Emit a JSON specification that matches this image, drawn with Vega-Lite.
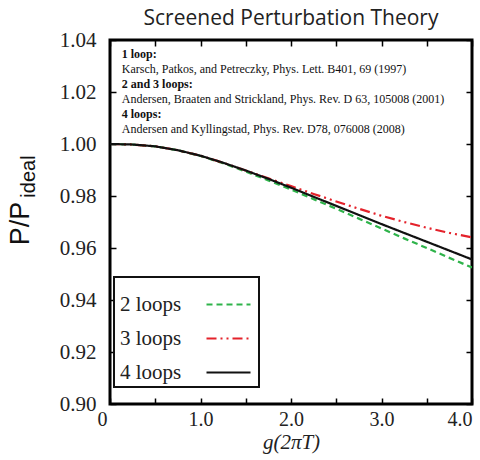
{
  "$schema": "https://vega.github.io/schema/vega-lite/v6.json",
  "width": 362,
  "height": 364,
  "autosize": {"type": "none"},
  "padding": {"left": 110, "top": 40, "right": 8, "bottom": 56},
  "title": {"text": "Screened Perturbation Theory", "font": "Open Sans", "fontSize": 21, "fontWeight": "normal", "anchor": "middle", "offset": 0, "color": "#222"},
  "datasets": {
    "curves": [
      {"g": 0.0, "P": 1.0, "series": "2 loops"},
      {"g": 0.25, "P": 0.9998, "series": "2 loops"},
      {"g": 0.5, "P": 0.9991, "series": "2 loops"},
      {"g": 0.75, "P": 0.9976, "series": "2 loops"},
      {"g": 1.0, "P": 0.9954, "series": "2 loops"},
      {"g": 1.25, "P": 0.9926, "series": "2 loops"},
      {"g": 1.5, "P": 0.9894, "series": "2 loops"},
      {"g": 1.75, "P": 0.986, "series": "2 loops"},
      {"g": 2.0, "P": 0.9825, "series": "2 loops"},
      {"g": 2.25, "P": 0.9788, "series": "2 loops"},
      {"g": 2.5, "P": 0.9751, "series": "2 loops"},
      {"g": 2.75, "P": 0.9713, "series": "2 loops"},
      {"g": 3.0, "P": 0.9675, "series": "2 loops"},
      {"g": 3.25, "P": 0.9637, "series": "2 loops"},
      {"g": 3.5, "P": 0.9600, "series": "2 loops"},
      {"g": 3.75, "P": 0.9562, "series": "2 loops"},
      {"g": 4.0, "P": 0.9525, "series": "2 loops"},
      {"g": 0.0, "P": 1.0, "series": "3 loops"},
      {"g": 0.25, "P": 0.9998, "series": "3 loops"},
      {"g": 0.5, "P": 0.9991, "series": "3 loops"},
      {"g": 0.75, "P": 0.9976, "series": "3 loops"},
      {"g": 1.0, "P": 0.9955, "series": "3 loops"},
      {"g": 1.25, "P": 0.9928, "series": "3 loops"},
      {"g": 1.5, "P": 0.9898, "series": "3 loops"},
      {"g": 1.75, "P": 0.9868, "series": "3 loops"},
      {"g": 2.0, "P": 0.9838, "series": "3 loops"},
      {"g": 2.25, "P": 0.9808, "series": "3 loops"},
      {"g": 2.5, "P": 0.9779, "series": "3 loops"},
      {"g": 2.75, "P": 0.9751, "series": "3 loops"},
      {"g": 3.0, "P": 0.9724, "series": "3 loops"},
      {"g": 3.25, "P": 0.97, "series": "3 loops"},
      {"g": 3.5, "P": 0.9678, "series": "3 loops"},
      {"g": 3.75, "P": 0.9658, "series": "3 loops"},
      {"g": 4.0, "P": 0.9641, "series": "3 loops"},
      {"g": 0.0, "P": 1.0, "series": "4 loops"},
      {"g": 0.25, "P": 0.9998, "series": "4 loops"},
      {"g": 0.5, "P": 0.9991, "series": "4 loops"},
      {"g": 0.75, "P": 0.9976, "series": "4 loops"},
      {"g": 1.0, "P": 0.9955, "series": "4 loops"},
      {"g": 1.25, "P": 0.9928, "series": "4 loops"},
      {"g": 1.5, "P": 0.9898, "series": "4 loops"},
      {"g": 1.75, "P": 0.9866, "series": "4 loops"},
      {"g": 2.0, "P": 0.9832, "series": "4 loops"},
      {"g": 2.25, "P": 0.9797, "series": "4 loops"},
      {"g": 2.5, "P": 0.9762, "series": "4 loops"},
      {"g": 2.75, "P": 0.9727, "series": "4 loops"},
      {"g": 3.0, "P": 0.9692, "series": "4 loops"},
      {"g": 3.25, "P": 0.9658, "series": "4 loops"},
      {"g": 3.5, "P": 0.9624, "series": "4 loops"},
      {"g": 3.75, "P": 0.959, "series": "4 loops"},
      {"g": 4.0, "P": 0.9556, "series": "4 loops"}
    ],
    "notes": [
      {"heads": "1 loop:\n2 and 3 loops:\n4 loops:",
       "refs": "Karsch, Patkos, and Petreczky, Phys. Lett.  B401, 69 (1997)\nAndersen, Braaten and Strickland, Phys. Rev.  D 63, 105008 (2001)\nAndersen and Kyllingstad, Phys. Rev.  D78, 076008 (2008)"}
    ]
  },
  "resolve": {"axis": {"x": "independent", "y": "independent"}},
  "layer": [
    {
      "mark": {"type": "rule", "color": "#555", "strokeDash": [2, 2], "strokeWidth": 1},
      "encoding": {
        "x": {"datum": 0, "type": "quantitative", "scale": {"domain": [0, 4], "nice": false},
          "axis": {"orient": "top", "values": [0, 0.5, 1, 1.5, 2, 2.5, 3, 3.5, 4], "labels": false, "title": null, "domain": false, "grid": false, "tickSize": -6, "tickColor": "black", "tickWidth": 1.5}},
        "x2": {"datum": 4},
        "y": {"datum": 1.0, "type": "quantitative", "scale": {"domain": [0.9, 1.04], "nice": false, "zero": false},
          "axis": {"orient": "right", "values": [0.9, 0.92, 0.94, 0.96, 0.98, 1.0, 1.02, 1.04], "labels": false, "title": null, "domain": false, "grid": false, "tickSize": -6, "tickColor": "black", "tickWidth": 1.5}}
      }
    },
    {
      "data": {"name": "curves"},
      "mark": {"type": "line", "clip": true},
      "encoding": {
        "x": {"field": "g", "type": "quantitative",
          "axis": {"orient": "bottom", "values": [0, 0.5, 1, 1.5, 2, 2.5, 3, 3.5, 4],
            "labelExpr": "datum.value === 0 ? '0' : (datum.value % 1 === 0 ? format(datum.value, '.1f') : '')",
            "labelAlign": {"condition": {"test": "datum.value === 4", "value": "right"}, "value": "center"},
            "labelOffset": {"condition": {"test": "datum.value === 0", "value": -8}, "value": 0},
            "title": "g(2πT)", "titleFont": "Liberation Serif", "titleFontStyle": "italic", "titleFontWeight": "normal", "titleFontSize": 21, "titleColor": "#222", "titlePadding": 2,
            "labelFont": "Liberation Serif", "labelFontSize": 20, "labelColor": "#222", "labelPadding": 11, "labelFlush": false,
            "domain": false, "grid": false, "tickSize": -6, "tickColor": "black", "tickWidth": 1.5}},
        "y": {"field": "P", "type": "quantitative",
          "axis": {"orient": "left", "values": [0.9, 0.92, 0.94, 0.96, 0.98, 1.0, 1.02, 1.04], "format": ".2f",
            "title": "P/P", "titleFont": "Liberation Sans", "titleFontSize": 27, "titleFontWeight": "normal", "titleColor": "#111",
            "titleAngle": 270, "titleAlign": "center", "titleBaseline": "alphabetic", "titleX": -82, "titleY": 183,
            "labelFont": "Liberation Serif", "labelFontSize": 21, "labelColor": "#222", "labelPadding": 20,
            "domain": false, "grid": false, "tickSize": -6, "tickColor": "black", "tickWidth": 1.5}},
        "color": {"field": "series", "type": "nominal", "title": null,
          "scale": {"domain": ["2 loops", "3 loops", "4 loops"], "range": ["#2eb34a", "#e4222b", "#111111"]}},
        "strokeDash": {"field": "series", "type": "nominal", "title": null,
          "scale": {"domain": ["2 loops", "3 loops", "4 loops"], "range": [[6, 4], [10, 4, 2, 4, 2, 4], [1, 0]]}},
        "strokeWidth": {"field": "series", "type": "ordinal", "title": null,
          "scale": {"domain": ["2 loops", "3 loops", "4 loops"], "range": [2.2, 2.2, 3.8]}}
      }
    },
    {
      "data": {"name": "notes"},
      "mark": {"type": "text", "font": "Liberation Serif", "fontSize": 12, "fontWeight": "bold", "align": "left", "baseline": "top", "lineHeight": 30, "lineBreak": "\n", "color": "#111"},
      "encoding": {
        "x": {"datum": 0.13, "type": "quantitative", "axis": null},
        "y": {"datum": 1.0364, "type": "quantitative",
          "axis": {"orient": "left", "labels": false, "ticks": false, "domain": false, "grid": false,
            "title": "ideal", "titleFont": "Liberation Sans", "titleFontSize": 20, "titleFontWeight": "normal", "titleColor": "#111",
            "titleAngle": 270, "titleAlign": "center", "titleBaseline": "alphabetic", "titleX": -76, "titleY": 136}},
        "text": {"field": "heads"}
      }
    },
    {
      "data": {"name": "notes"},
      "mark": {"type": "text", "font": "Liberation Serif", "fontSize": 12, "align": "left", "baseline": "top", "lineHeight": 30, "lineBreak": "\n", "color": "#111"},
      "encoding": {
        "x": {"datum": 0.13, "type": "quantitative", "axis": null},
        "y": {"datum": 1.0306, "type": "quantitative", "axis": null},
        "text": {"field": "refs"}
      }
    }
  ],
  "config": {
    "view": {"stroke": "black", "strokeWidth": 3},
    "legend": {
      "orient": "none", "legendX": 4, "legendY": 237,
      "strokeColor": "#111", "strokeWidth": 2, "fillColor": "white", "padding": 4,
      "labelFont": "Liberation Serif", "labelFontSize": 21, "labelColor": "#222",
      "symbolType": "stroke", "symbolSize": 1936, "symbolOffset": 87, "labelOffset": -132, "labelAlign": "left",
      "rowPadding": 0, "labelLimit": 200
    }
  }
}
